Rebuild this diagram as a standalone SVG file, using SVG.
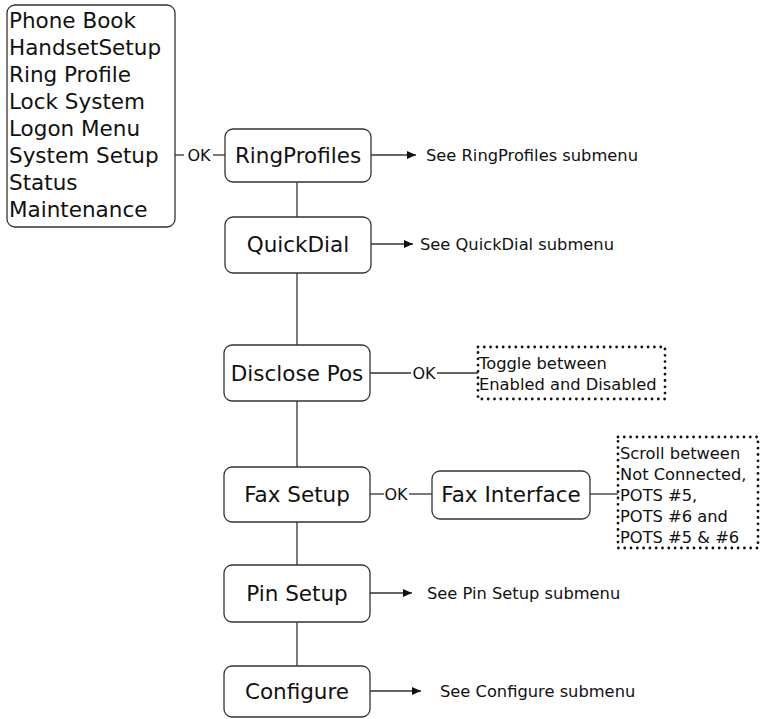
<svg xmlns="http://www.w3.org/2000/svg" width="762" height="719" viewBox="0 0 762 719">
<defs>
<style>
.box{fill:#fff;stroke:#333;stroke-width:1.3}
.dot{fill:none;stroke:#111;stroke-width:2.8;stroke-linecap:round;stroke-dasharray:0 6.3}
.ln{fill:none;stroke:#333;stroke-width:1.3}
.big{font-family:"DejaVu Sans",Verdana,sans-serif;font-size:21.5px;fill:#111}
.mid{font-family:"DejaVu Sans",Verdana,sans-serif;font-size:16.3px;fill:#111}
.ok{font-family:"DejaVu Sans",Verdana,sans-serif;font-size:16px;fill:#111}
</style>
<marker id="arr" markerWidth="10" markerHeight="8" refX="9" refY="4" orient="auto" markerUnits="userSpaceOnUse">
<path d="M0,0 L9,4 L0,8 Z" fill="#111"/>
</marker>
</defs>
<g id="connectors">
<line class="ln" x1="175" y1="155" x2="184" y2="155"/>
<text class="ok" x="199" y="161" text-anchor="middle">OK</text>
<line class="ln" x1="213" y1="155" x2="225" y2="155"/>
<line class="ln" x1="297" y1="182" x2="297" y2="217"/>
<line class="ln" x1="297" y1="273" x2="297" y2="345"/>
<line class="ln" x1="297" y1="401" x2="297" y2="467"/>
<line class="ln" x1="297" y1="522" x2="297" y2="565"/>
<line class="ln" x1="297" y1="622" x2="297" y2="666"/>
<line class="ln" x1="371" y1="155" x2="416" y2="155" marker-end="url(#arr)"/>
<line class="ln" x1="371" y1="244" x2="413" y2="244" marker-end="url(#arr)"/>
<line class="ln" x1="370" y1="593" x2="412" y2="593" marker-end="url(#arr)"/>
<line class="ln" x1="370" y1="691" x2="421" y2="691" marker-end="url(#arr)"/>
<line class="ln" x1="370" y1="373" x2="411" y2="373"/>
<text class="ok" x="424" y="379" text-anchor="middle">OK</text>
<line class="ln" x1="437" y1="373" x2="478" y2="373"/>
<line class="ln" x1="370" y1="494" x2="384" y2="494"/>
<text class="ok" x="396" y="500" text-anchor="middle">OK</text>
<line class="ln" x1="409" y1="494" x2="432" y2="494"/>
<line class="ln" x1="590" y1="494" x2="618" y2="494"/>
</g>
<g id="mainmenu">
<rect class="box" x="7" y="5" width="168" height="222" rx="8"/>
<text class="big" x="9" y="28">Phone Book</text>
<text class="big" x="9" y="55">HandsetSetup</text>
<text class="big" x="9" y="82">Ring Profile</text>
<text class="big" x="9" y="109">Lock System</text>
<text class="big" x="9" y="136">Logon Menu</text>
<text class="big" x="9" y="163">System Setup</text>
<text class="big" x="9" y="190">Status</text>
<text class="big" x="9" y="217">Maintenance</text>
</g>
<g id="ringprofiles">
<rect class="box" x="225" y="129" width="146" height="53" rx="8"/>
<text class="big" x="298" y="163" text-anchor="middle">RingProfiles</text>
</g>
<text class="mid" x="426" y="161">See RingProfiles submenu</text>
<g id="quickdial">
<rect class="box" x="225" y="217" width="146" height="56" rx="8"/>
<text class="big" x="298" y="252" text-anchor="middle">QuickDial</text>
</g>
<text class="mid" x="420" y="250">See QuickDial submenu</text>
<g id="disclosepos">
<rect class="box" x="224" y="345" width="146" height="56" rx="8"/>
<text class="big" x="297" y="381" text-anchor="middle">Disclose Pos</text>
</g>
<g id="toggle">
<rect class="dot" x="478" y="347" width="187" height="52"/>
<text class="mid" x="479" y="369">Toggle between</text>
<text class="mid" x="479" y="390">Enabled and Disabled</text>
</g>
<g id="faxsetup">
<rect class="box" x="224" y="467" width="146" height="55" rx="8"/>
<text class="big" x="297" y="502" text-anchor="middle">Fax Setup</text>
</g>
<g id="faxinterface">
<rect class="box" x="432" y="471" width="158" height="48" rx="8"/>
<text class="big" x="511" y="502" text-anchor="middle">Fax Interface</text>
</g>
<g id="scroll">
<rect class="dot" x="618" y="437" width="140" height="111"/>
<text class="mid" x="620" y="459">Scroll between</text>
<text class="mid" x="620" y="480">Not Connected,</text>
<text class="mid" x="620" y="501">POTS #5,</text>
<text class="mid" x="620" y="522">POTS #6 and</text>
<text class="mid" x="620" y="543">POTS #5 &amp; #6</text>
</g>
<g id="pinsetup">
<rect class="box" x="224" y="565" width="146" height="57" rx="8"/>
<text class="big" x="297" y="601" text-anchor="middle">Pin Setup</text>
</g>
<text class="mid" x="427" y="599">See Pin Setup submenu</text>
<g id="configure">
<rect class="box" x="224" y="666" width="146" height="51" rx="8"/>
<text class="big" x="297" y="699" text-anchor="middle">Configure</text>
</g>
<text class="mid" x="440" y="697">See Configure submenu</text>
</svg>
